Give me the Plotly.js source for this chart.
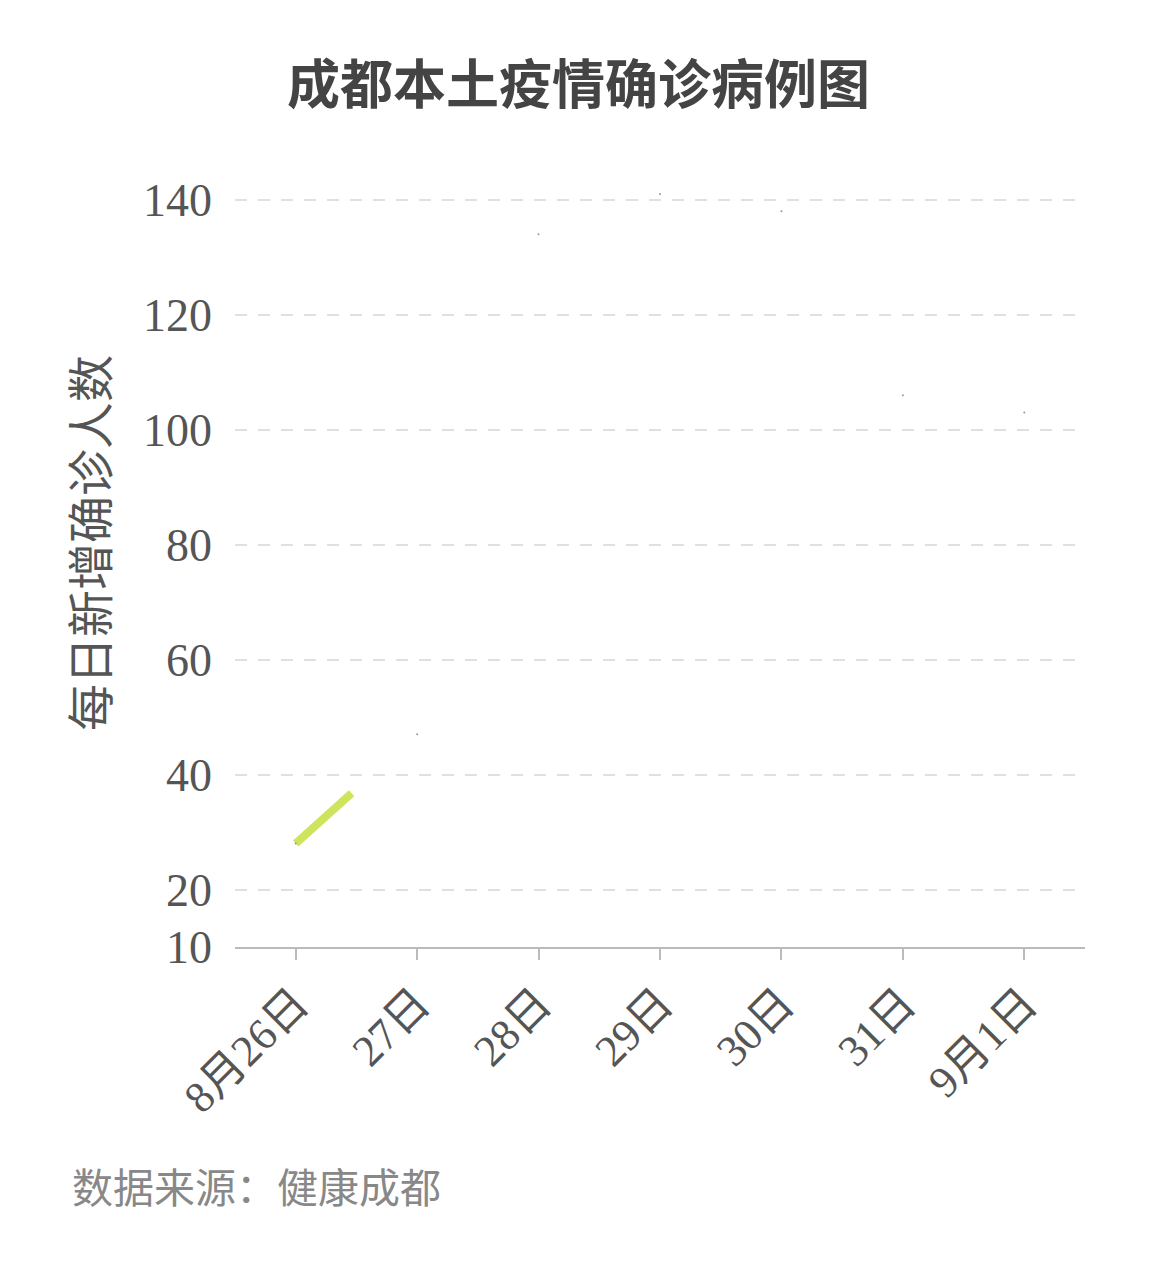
<!DOCTYPE html>
<html>
<head>
<meta charset="utf-8">
<script src="https://cdn.plot.ly/plotly-3.0.1.min.js"></script>
<style>html,body{margin:0;padding:0;background:#fff;}#chart{width:1157px;height:1280px;}</style>
</head>
<body>
<div id="chart"></div>
<script>
const categories = ["8月26日", "27日", "28日", "29日", "30日", "31日", "9月1日"];
const dailyCases = [28, 47, 134, 141, 138, 106, 103];
const yTicks = [10, 20, 40, 60, 80, 100, 120, 140];
// animation state captured in the reference: fraction of the first segment drawn
const drawProgress = 0.46;

const idx = categories.map((c, i) => i);
const partX = [0, drawProgress];
const partY = [dailyCases[0], dailyCases[0] + drawProgress * (dailyCases[1] - dailyCases[0])];

const serif = '"Liberation Serif", "Noto Sans CJK SC", serif';
const sans = '"Noto Sans CJK SC", "Noto Sans", sans-serif';

// render digits in the serif face, CJK characters in the sans face
const tickLabels = categories.map(c =>
  c.replace(/(\d+)/g, '<span style="font-family:\'Liberation Serif\',serif">$1</span>'));

const traces = [
  {
    x: partX, y: partY, type: 'scatter', mode: 'lines',
    line: {color: '#cde55c', width: 8}, hoverinfo: 'skip', cliponaxis: false
  },
  {
    x: idx, y: dailyCases, type: 'scatter', mode: 'markers',
    marker: {color: '#9a9a8a', size: 2}, cliponaxis: false
  }
];

const layout = {
  width: 1157, height: 1280,
  paper_bgcolor: '#fff', plot_bgcolor: '#fff',
  showlegend: false,
  margin: {l: 235, r: 72, t: 171, b: 333},
  title: {
    text: '<b>成都本土疫情确诊病例图</b>',
    font: {family: sans, size: 53, color: '#444'},
    x: 0.5, xanchor: 'center', y: 1 - 85 / 1280, yanchor: 'middle', xref: 'container', yref: 'container'
  },
  xaxis: {
    range: [-0.5, 6.5], tickmode: 'array', tickvals: idx, ticktext: tickLabels,
    tickangle: -45, ticks: 'outside', ticklen: 11, tickwidth: 2, tickcolor: '#bbb',
    showline: true, linecolor: '#bbb', linewidth: 2, showgrid: false, zeroline: false,
    tickfont: {family: sans, size: 44, color: '#555'}, automargin: false
  },
  yaxis: {
    range: [10, 145], tickmode: 'array', tickvals: yTicks, ticks: '',
    showgrid: true, gridcolor: '#e0e0e0', gridwidth: 2, griddash: '12px,11px',
    zeroline: false, showline: false, ticklabelstandoff: 22,
    tickfont: {family: serif, size: 46, color: '#555'}, automargin: false
  },
  annotations: [
    {
      text: '每日新增确诊人数', textangle: -90, showarrow: false,
      xref: 'paper', yref: 'paper', x: 0, y: (947 - 543) / 776, xanchor: 'center', yanchor: 'middle',
      xshift: -148, font: {family: sans, size: 47, color: '#555'}
    },
    {
      text: '数据来源：健康成都', showarrow: false,
      xref: 'paper', yref: 'paper', x: (70 - 235) / 850, y: (947 - 1185) / 776, xanchor: 'left', yanchor: 'middle',
      font: {family: sans, size: 41, color: '#888'}
    }
  ]
};

Plotly.newPlot('chart', traces, layout, {displayModeBar: false, staticPlot: true});
</script>
</body>
</html>
